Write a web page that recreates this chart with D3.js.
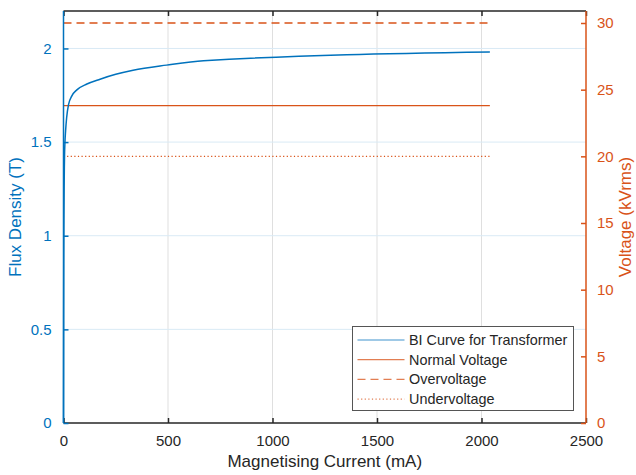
<!DOCTYPE html>
<html>
<head>
<meta charset="utf-8">
<script src="https://cdn.jsdelivr.net/npm/d3@7/dist/d3.min.js"></script>
<style>
  html, body { margin: 0; padding: 0; background: #fff; }
  svg { display: block; font-family: "Liberation Sans", Arial, Helvetica, sans-serif; }
</style>
</head>
<body>
<svg id="chart" width="636" height="475"></svg>
<script>
// Magnetising current (mA) and flux density (T) of the BI curve
const currentMA = [0, 0.6, 1.2, 2, 3, 4, 5, 7, 10, 15, 24, 40, 64, 112, 175, 250, 333, 493, 670, 2040];
const fluxT     = [0, 0.45, 0.85, 1.08, 1.25, 1.36, 1.43, 1.5, 1.56, 1.63, 1.70, 1.747, 1.779, 1.81, 1.836, 1.862, 1.884, 1.911, 1.934, 1.981];

// Voltage reference levels (kVrms), drawn across the measured current span
const voltageNames  = ["Normal Voltage", "Overvoltage", "Undervoltage"];
const voltageLevels = [23.8, 30.0, 20.0];
const voltageSpanMA = [0, 2040];

// Tick labels
const xTicks      = [0, 500, 1000, 1500, 2000, 2500];
const fluxTicks   = [0, 0.5, 1, 1.5, 2];
const voltTicks   = [0, 5, 10, 15, 20, 25, 30];

const legendNames = ["BI Curve for Transformer", ...voltageNames];

const BLUE = "#0072BD", ORANGE = "#D95319", DARK = "#262626";

const svg = d3.select("#chart");
const L = 63.5, R = 586, T = 11, B = 423;

const x  = d3.scaleLinear().domain([0, 2500]).range([L, R]);
const yL = d3.scaleLinear().domain([0, 2.2]).range([B, T]);
const yR = d3.scaleLinear().domain([0, 30.9]).range([B, T]);

// grid lines
const grid = svg.append("g");
grid.selectAll("line.vg").data(xTicks.filter(d => d > 0 && d < 2500)).enter()
  .append("line").attr("class", "vg")
  .attr("x1", d => x(d)).attr("x2", d => x(d)).attr("y1", T).attr("y2", B)
  .attr("stroke", "#dfdfdf").attr("stroke-width", 1);
grid.selectAll("line.hg").data(fluxTicks.filter(d => d > 0)).enter()
  .append("line").attr("class", "hg")
  .attr("x1", L).attr("x2", R).attr("y1", d => yL(d)).attr("y2", d => yL(d))
  .attr("stroke", "#d9eaf5").attr("stroke-width", 1);

// data marks
const marks = svg.append("g");
const styles = [
  { dash: null, width: 1.3 },
  { dash: "8,5", width: 1.3 },
  { dash: "1.2,2.4", width: 1.2 }
];
voltageLevels.forEach((v, i) => {
  marks.append("line")
    .attr("x1", x(voltageSpanMA[0])).attr("x2", x(voltageSpanMA[1]))
    .attr("y1", yR(v)).attr("y2", yR(v))
    .attr("stroke", ORANGE).attr("stroke-width", styles[i].width)
    .attr("stroke-dasharray", styles[i].dash);
});

const line = d3.line()
  .x((d, i) => x(currentMA[i]))
  .y(d => yL(d))
  .curve(d3.curveMonotoneX);
marks.append("path").datum(fluxT)
  .attr("d", line).attr("fill", "none")
  .attr("stroke", BLUE).attr("stroke-width", 1.5);

// axes
const xAxis = svg.append("g").attr("transform", `translate(0,${B})`)
  .call(d3.axisBottom(x).tickValues(xTicks).tickSize(-5).tickPadding(12).tickFormat(d3.format("d")));
const xTop = svg.append("g").attr("transform", `translate(0,${T})`)
  .call(d3.axisTop(x).tickValues(xTicks).tickSize(-5).tickFormat(""));
const yAxisL = svg.append("g").attr("transform", `translate(${L},0)`)
  .call(d3.axisLeft(yL).tickValues(fluxTicks).tickSize(-5).tickPadding(12).tickFormat(d3.format("")));
const yAxisR = svg.append("g").attr("transform", `translate(${R},0)`)
  .call(d3.axisRight(yR).tickValues(voltTicks).tickSize(-5).tickPadding(11).tickFormat(d3.format("d")));

function styleAxis(g, color) {
  g.selectAll(".domain").attr("stroke", color).attr("stroke-width", 1.5);
  g.selectAll(".tick line").attr("stroke", color).attr("stroke-width", 1.5);
  g.selectAll(".tick text").attr("fill", color).attr("font-size", 15)
    .attr("font-family", "'Liberation Sans', Arial, sans-serif");
}
styleAxis(xAxis, DARK);
styleAxis(xTop, DARK);
styleAxis(yAxisL, BLUE);
styleAxis(yAxisR, ORANGE);
xAxis.selectAll(".domain").attr("d", `M${L},0H${R}`);
xTop.selectAll(".domain").attr("d", `M${L},0H${R}`);
yAxisL.selectAll(".domain").attr("d", `M0,${B}V${T}`);
yAxisR.selectAll(".domain").attr("d", `M0,${B}V${T}`);

// axis titles
svg.append("text").attr("x", (L + R) / 2).attr("y", 467)
  .attr("text-anchor", "middle").attr("font-size", 17).attr("fill", DARK)
  .text("Magnetising Current (mA)");
svg.append("text").attr("transform", `translate(21,${(T + B) / 2}) rotate(-90)`)
  .attr("text-anchor", "middle").attr("font-size", 17).attr("fill", BLUE)
  .text("Flux Density (T)");
svg.append("text").attr("transform", `translate(631,${(T + B) / 2}) rotate(-90)`)
  .attr("text-anchor", "middle").attr("font-size", 17).attr("fill", ORANGE)
  .text("Voltage (kVrms)");

// legend
const lg = svg.append("g").attr("transform", "translate(352.5,326.5)");
lg.append("rect").attr("width", 221).attr("height", 84)
  .attr("fill", "#fff").attr("stroke", "#555").attr("stroke-width", 1);
const legendStyles = [
  { color: BLUE, dash: null },
  { color: ORANGE, dash: null },
  { color: ORANGE, dash: "8,5" },
  { color: ORANGE, dash: "1.2,2.4" }
];
const rows = lg.selectAll("g.row").data(legendNames).enter().append("g")
  .attr("class", "row").attr("transform", (d, i) => `translate(0,${13.5 + i * 19.7})`);
rows.append("line").attr("x1", 5).attr("x2", 52).attr("y1", 0).attr("y2", 0)
  .attr("stroke", (d, i) => legendStyles[i].color)
  .attr("stroke-dasharray", (d, i) => legendStyles[i].dash)
  .attr("stroke-width", 1.2).attr("opacity", 0.75);
rows.append("text").attr("x", 56.5).attr("y", 5)
  .attr("font-size", 14.4).attr("fill", DARK).text(d => d);
</script>
</body>
</html>
